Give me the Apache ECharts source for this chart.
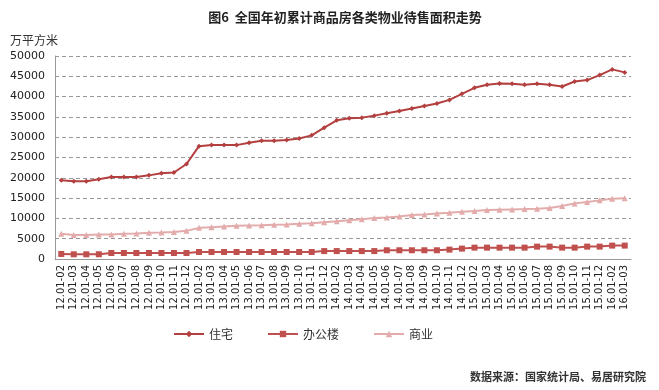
<!DOCTYPE html>
<html>
<head>
<meta charset="utf-8">
<script src="https://cdn.jsdelivr.net/npm/echarts@6/dist/echarts.min.js"></script>
<style>
html,body{margin:0;padding:0;background:#fff;}
#c{width:659px;height:390px;}
</style>
</head>
<body>
<div id="c"></div>
<script>
const categories = [
  '12.01-02','12.01-03','12.01-04','12.01-05','12.01-06','12.01-07','12.01-08','12.01-09','12.01-10','12.01-11','12.01-12',
  '13.01-02','13.01-03','13.01-04','13.01-05','13.01-06','13.01-07','13.01-08','13.01-09','13.01-10','13.01-11','13.01-12',
  '14.01-02','14.01-03','14.01-04','14.01-05','14.01-06','14.01-07','14.01-08','14.01-09','14.01-10','14.01-11','14.01-12',
  '15.01-02','15.01-03','15.01-04','15.01-05','15.01-06','15.01-07','15.01-08','15.01-09','15.01-10','15.01-11','15.01-12',
  '16.01-02','16.01-03'
];
const residential = [
  19400,19130,19130,19630,20200,20200,20200,20600,21100,21300,23400,
  27800,28050,28050,28050,28640,29130,29130,29290,29700,30450,32340,
  34160,34650,34820,35310,35890,36470,37050,37710,38280,39190,40680,
  42160,42900,43230,43150,42900,43150,42900,42490,43730,44060,45300,
  46700,45960
];
const office = [
  1240,1160,1160,1170,1480,1480,1480,1480,1480,1480,1480,
  1730,1730,1730,1730,1730,1730,1730,1730,1730,1730,1950,
  1950,1950,1950,1950,2150,2150,2150,2150,2150,2310,2560,
  2800,2800,2800,2800,2800,3050,3050,2800,2800,3050,3050,
  3300,3300
];
const commercial = [
  6190,5940,5940,6020,6020,6190,6270,6440,6520,6680,6930,
  7670,7840,8000,8170,8250,8330,8420,8500,8660,8830,9080,
  9320,9570,9820,10070,10230,10480,10810,10970,11220,11390,11630,
  11800,12050,12130,12210,12290,12380,12540,13040,13700,14030,14440,
  14850,14950
];
const seriesNames = ['住宅','办公楼','商业'];
const yTicks = {min:0, max:50000, interval:5000};

const chart = echarts.init(document.getElementById('c'), null, {renderer:'canvas'});
const cjk = '"Noto Sans CJK SC", sans-serif';
const num = '"DejaVu Sans", sans-serif';
chart.setOption({
  backgroundColor:'#ffffff',
  animation:false,
  title:[
    {text:'图6  全国年初累计商品房各类物业待售面积走势', left:340, top:6, textAlign:'center',
     textStyle:{fontFamily:cjk, fontSize:13, fontWeight:'bold', color:'#222'}},
    {text:'万平方米', left:5, top:29, textStyle:{fontFamily:cjk, fontSize:12, fontWeight:'normal', color:'#333'}},
    {text:'数据来源：国家统计局、易居研究院', right:8, top:366,
     textStyle:{fontFamily:cjk, fontSize:11, fontWeight:'bold', color:'#333'}}
  ],
  legend:{
    data:seriesNames, left:168, top:323, itemGap:34, itemWidth:30, itemHeight:8,
    textStyle:{fontFamily:cjk, fontSize:12, color:'#333'}
  },
  grid:{left:55, right:28, top:56, bottom:131, containLabel:false},
  xAxis:{
    type:'category', data:categories, boundaryGap:true,
    axisLine:{lineStyle:{color:'#999', width:1}},
    axisTick:{show:false},
    axisLabel:{rotate:90, interval:0, fontFamily:num, fontSize:10, color:'#222', margin:6}
  },
  yAxis:{
    type:'value', min:yTicks.min, max:yTicks.max, interval:yTicks.interval,
    axisLine:{show:true, lineStyle:{color:'#999', width:1}},
    axisTick:{show:false},
    axisLabel:{fontFamily:num, fontSize:11, color:'#222', margin:10, formatter:function(v){return String(v);}},
    splitLine:{lineStyle:{color:'#999', type:[4,3], width:1}}
  },
  series:[
    {name:seriesNames[0], type:'line', data:residential, symbol:'diamond', symbolSize:5,
     lineStyle:{color:'#B33F3F', width:2}, itemStyle:{color:'#B33F3F'}},
    {name:seriesNames[1], type:'line', data:office, symbol:'rect', symbolSize:6,
     lineStyle:{color:'#C0504D', width:2}, itemStyle:{color:'#C0504D'}},
    {name:seriesNames[2], type:'line', data:commercial, symbol:'triangle', symbolSize:6,
     lineStyle:{color:'#E3ABAB', width:2}, itemStyle:{color:'#E3ABAB'}}
  ]
});
</script>
</body>
</html>
